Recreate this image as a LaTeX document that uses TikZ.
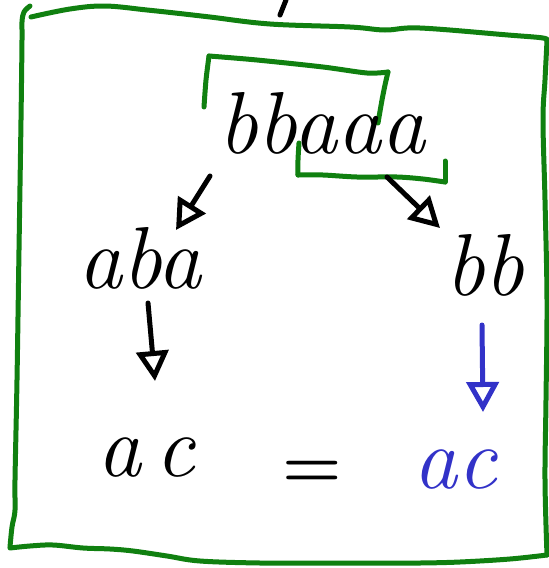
\documentclass[tikz,border=0pt]{standalone}
\usetikzlibrary{arrows.meta,calc}
\definecolor{boxgreen}{RGB}{16,128,16}
\definecolor{inkblue}{RGB}{50,50,200}
\begin{document}
\begin{tikzpicture}[x=1pt,y=-1pt,
  ink/.style={line width=5pt,line cap=round,line join=round},
  frame/.style={ink,draw=boxgreen},
  word/.style={inner sep=0pt,anchor=base west,font=\fontsize{88}{100}\selectfont\itshape},
  arr/.style={ink,-{Triangle[open,length=30pt,width=32pt]}}]
\useasboundingbox (0,0) rectangle (549,568);

% outer hand-drawn frame
\draw[frame] plot[smooth,tension=0.6] coordinates {(30,6)(24,12)(22,22)(22,40)(21,120)(19,250)(17,380)(15,480)(15,510)(12,527)(10,547)};
\draw[frame] plot[smooth,tension=0.6] coordinates {(10,548)(30,546)(53,545)(83,548)(110,549)(133,551)(167,556)(200,561)(260,563)(320,563)(380,563)(420,563)(460,562)(510,559)(547,555)};
\draw[frame] plot[smooth,tension=0.6] coordinates {(547,555)(545,480)(546,400)(547,300)(545,200)(543,120)(545,80)(547,41)};
\draw[frame] plot[smooth,tension=0.6] coordinates {(31,17)(70,9)(105,6)(147,10)(175,13)(210,17)(270,24)(350,27)(385,30)(420,28)(508,35)(543,38)(547,41)};

% small stroke at top
\draw[ink] (286,0) -- (280,15);

% inner brackets
\draw[frame] plot[smooth,tension=0.5] coordinates {(204,107)(206,80)(209,56)};
\draw[frame] plot[smooth,tension=0.5] coordinates {(209,56)(257,60)(323,67)(367,73)(388,72)};
\draw[frame] plot[smooth,tension=0.5] coordinates {(388,72)(385,85)(382,100)(378,123)};
\draw[frame] plot[smooth,tension=0.5] coordinates {(299,143)(298,160)(298,175)};
\draw[frame] plot[smooth,tension=0.5] coordinates {(298,175)(323,175)(357,177)(397,177)(423,179)(445,182)};
\draw[frame] plot[smooth,tension=0.5] coordinates {(445,182)(445,170)(445,161)};

% words
\node[word] (top) at (218,153) {bbaaa};
\node[word] (aba) at (78,288) {aba};
\node[word] (bbR) at (445,295) {bb};
\node[word] (acL) at (97,476) {a\hspace{14pt}c};
\node[inner sep=0pt,anchor=base,font=\fontsize{68}{80}\selectfont\bfseries] (eq) at (312,487) {=};
\node[word,text=inkblue] (acR) at (413,488) {ac};

% arrows
\draw[arr] ($(top.base west)+(-8,23)$) -- ($(aba.base west)+(98,-58)$);
\draw[arr] ($(top.base west)+(169,24)$) -- ($(bbR.base west)+(-5,-67)$);
\draw[arr] ($(aba.base west)+(70,15)$) -- ($(acL.base west)+(58,-95)$);
\draw[arr,draw=inkblue] ($(bbR.base west)+(37,30)$) -- ($(acR.base west)+(70,-76)$);
\end{tikzpicture}
\end{document}
